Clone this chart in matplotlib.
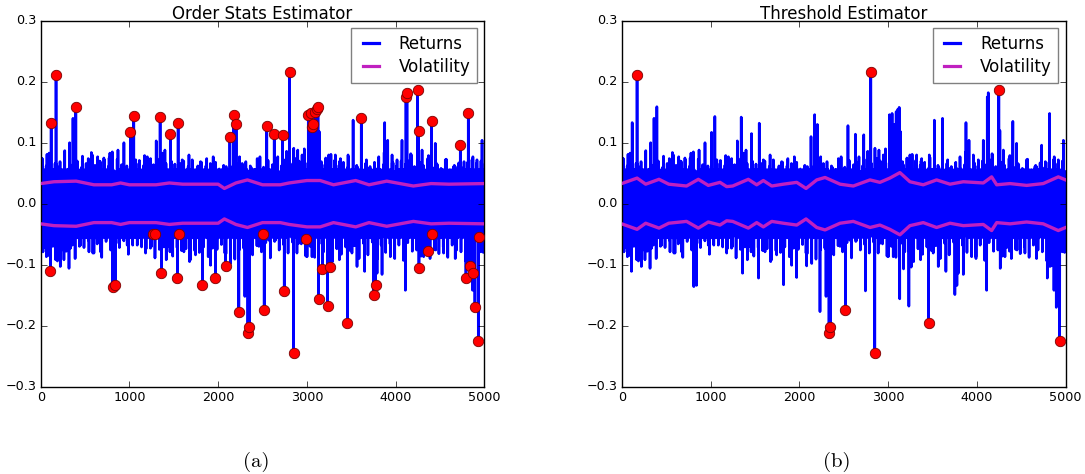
import numpy as np
import matplotlib
matplotlib.use("Agg")
import matplotlib.pyplot as plt

plt.style.use("classic")

# ---------------- data ----------------
n_obs = 5000

# amplitudes of the dense core band (cycled, alternating sign)
core_amp = [0.042, 0.050, 0.036, 0.047, 0.053, 0.039, 0.045, 0.031,
            0.049, 0.044, 0.056, 0.038, 0.046]

# fringe needles above / below the core, one per 50-step bin
fringe_hi = [0.074, 0.062, 0.058, 0.066, 0.061, 0.069, 0.057, 0.064, 0.070, 0.060,
             0.066, 0.072, 0.063, 0.070, 0.075, 0.061, 0.068, 0.073, 0.064, 0.058,
             0.067, 0.060, 0.071, 0.063, 0.069, 0.062, 0.074, 0.060, 0.066, 0.058,
             0.065, 0.059, 0.070, 0.061, 0.064, 0.057, 0.068, 0.062, 0.066, 0.059,
             0.057, 0.063, 0.055, 0.061, 0.066, 0.058, 0.069, 0.062, 0.056, 0.064,
             0.060, 0.071, 0.064, 0.068, 0.062, 0.073, 0.066, 0.061, 0.070, 0.064,
             0.067, 0.073, 0.062, 0.069, 0.075, 0.065, 0.071, 0.063, 0.068, 0.060,
             0.057, 0.063, 0.059, 0.066, 0.061, 0.068, 0.058, 0.064, 0.060, 0.067,
             0.062, 0.070, 0.065, 0.072, 0.061, 0.068, 0.063, 0.074, 0.060, 0.066,
             0.058, 0.064, 0.056, 0.063, 0.067, 0.059, 0.068, 0.062, 0.066, 0.070]
fringe_lo = [-0.072, -0.065, -0.070, -0.062, -0.076, -0.068, -0.073, -0.063, -0.070, -0.066,
             -0.060, -0.071, -0.066, -0.074, -0.062, -0.069, -0.064, -0.072, -0.061, -0.067,
             -0.068, -0.062, -0.071, -0.065, -0.073, -0.066, -0.075, -0.064, -0.070, -0.062,
             -0.072, -0.066, -0.074, -0.068, -0.077, -0.064, -0.071, -0.066, -0.073, -0.063,
             -0.067, -0.061, -0.070, -0.064, -0.076, -0.068, -0.072, -0.065, -0.069, -0.062,
             -0.064, -0.070, -0.062, -0.075, -0.067, -0.071, -0.063, -0.069, -0.066, -0.073,
             -0.070, -0.076, -0.066, -0.072, -0.079, -0.068, -0.074, -0.065, -0.071, -0.067,
             -0.069, -0.074, -0.065, -0.071, -0.063, -0.077, -0.068, -0.072, -0.066, -0.074,
             -0.068, -0.073, -0.064, -0.070, -0.076, -0.066, -0.072, -0.068, -0.075, -0.065,
             -0.071, -0.077, -0.068, -0.074, -0.079, -0.069, -0.075, -0.070, -0.073, -0.067]
# a second, sparser set of taller fringe needles (one per 100-step bin)
fringe2_hi = [0.081, 0.066, 0.087, 0.058, 0.078, 0.084, 0.069, 0.075, 0.088, 0.062,
              0.072, 0.079, 0.064, 0.083, 0.070, 0.066, 0.080, 0.062, 0.074, 0.068,
              0.059, 0.071, 0.066, 0.060, 0.077, 0.082, 0.069, 0.086, 0.074, 0.090,
              0.078, 0.064, 0.081, 0.070, 0.076, 0.060, 0.072, 0.058, 0.084, 0.067,
              0.075, 0.082, 0.068, 0.079, 0.064, 0.073, 0.061, 0.069, 0.077, 0.066]
fringe2_lo = [-0.085, -0.094, -0.078, -0.090, -0.072, -0.081, -0.088, -0.076, -0.069, -0.083,
              -0.079, -0.074, -0.089, -0.071, -0.086, -0.077, -0.092, -0.080, -0.087, -0.075,
              -0.082, -0.091, -0.073, -0.084, -0.079, -0.089, -0.076, -0.093, -0.081, -0.086,
              -0.088, -0.079, -0.095, -0.083, -0.077, -0.090, -0.084, -0.092, -0.080, -0.087,
              -0.093, -0.078, -0.086, -0.090, -0.082, -0.088, -0.076, -0.094, -0.085, -0.080]

# individual spikes (time index, return)
spike_x = [18, 26, 64, 94, 110, 118, 169, 173, 218, 221, 262, 319, 326, 356, 364, 396,
           450, 469, 536, 544, 582, 600, 642, 675, 717, 780, 807, 812, 842, 882, 938,
           975, 1012, 1049, 1088, 1107, 1182, 1201, 1238, 1250, 1263, 1289, 1302, 1346,
           1361, 1400, 1415, 1457, 1462, 1541, 1549, 1560, 1595, 1614, 1678, 1708, 1745,
           1802, 1823, 1914, 1944, 1970, 2076, 2083, 2090, 2132, 2140, 2173, 2203, 2233,
           2241, 2301, 2335, 2350, 2440, 2459, 2500, 2519, 2548, 2571, 2632, 2646, 2672,
           2726, 2745, 2788, 2805, 2850, 2852, 2897, 2908, 2946, 2993, 3002, 3016, 3045,
           3055, 3058, 3072, 3091, 3110, 3125, 3131, 3141, 3174, 3234, 3246, 3260, 3283,
           3321, 3366, 3378, 3456, 3464, 3508, 3521, 3565, 3613, 3651, 3697, 3752, 3775,
           3791, 3810, 3847, 3877, 3911, 3941, 3960, 3990, 4016, 4072, 4110, 4117, 4128,
           4177, 4247, 4259, 4263, 4298, 4316, 4368, 4405, 4413, 4447, 4452, 4541, 4560,
           4654, 4672, 4729, 4793, 4819, 4823, 4838, 4861, 4868, 4875, 4894, 4917, 4932,
           4939, 4961, 4974]
spike_y = [0.074, -0.079, -0.087, 0.083, -0.111, 0.133, -0.092, 0.211, 0.069, -0.103,
           -0.092, -0.106, 0.100, -0.068, 0.140, 0.159, -0.068, 0.070, 0.074, -0.079,
           0.080, -0.081, 0.077, -0.079, 0.072, 0.083, 0.085, -0.136, -0.134, -0.065,
           0.100, -0.068, 0.117, 0.143, -0.068, 0.066, -0.081, 0.077, 0.074, -0.070,
           -0.050, -0.050, 0.103, 0.142, -0.114, 0.088, -0.092, -0.079, 0.115, -0.122,
           0.132, -0.049, 0.072, -0.079, -0.095, 0.072, -0.084, 0.069, -0.133, -0.101,
           0.077, -0.121, -0.081, -0.102, 0.061, 0.110, -0.098, 0.146, 0.130, -0.177,
           0.077, -0.152, -0.212, -0.202, 0.074, -0.070, -0.050, -0.175, 0.128, -0.060,
           0.114, -0.060, 0.077, 0.113, -0.143, -0.081, 0.216, -0.244, 0.091, 0.088,
           -0.065, 0.080, -0.058, -0.087, 0.146, 0.148, 0.126, -0.087, 0.130, 0.151,
           0.155, 0.158, -0.156, 0.118, -0.107, -0.168, 0.080, -0.104, -0.092, 0.080,
           -0.092, 0.074, -0.196, 0.080, -0.081, 0.137, -0.103, 0.140, -0.111, 0.058,
           -0.149, -0.134, -0.114, 0.077, -0.116, 0.133, 0.104, -0.087, 0.080, -0.090,
           0.072, 0.104, -0.142, 0.175, 0.182, 0.080, 0.187, 0.120, -0.106, 0.088,
           -0.087, -0.078, 0.135, -0.049, 0.099, -0.076, -0.081, 0.072, 0.061, -0.090,
           0.096, -0.122, 0.148, -0.103, -0.102, 0.072, -0.142, -0.113, -0.170, 0.072,
           -0.225, -0.055, -0.079, 0.104]

# points flagged as jumps by each estimator
jumps_a = [110, 118, 173, 396, 812, 842, 1012, 1049, 1263, 1289, 1346, 1361, 1462, 1541,
           1549, 1560, 1823, 1970, 2083, 2132, 2173, 2203, 2233, 2335, 2350, 2500, 2519,
           2548, 2632, 2726, 2745, 2805, 2850, 2993, 3016, 3045, 3055, 3072, 3091, 3110,
           3125, 3131, 3174, 3234, 3260, 3456, 3613, 3752, 3775, 4117, 4128, 4247, 4259,
           4263, 4368, 4405, 4413, 4729, 4793, 4819, 4838, 4875, 4894, 4932, 4939]
jumps_b = [173, 2335, 2350, 2519, 2805, 2850, 3456, 4247, 4932]

# volatility estimates (+/-)
vol_a_x = [0, 150, 400, 600, 800, 900, 1000, 1300, 1450, 1600, 2000, 2070, 2200, 2330,
           2500, 2700, 2800, 3000, 3150, 3300, 3550, 3700, 3900, 4200, 4400, 4600, 5000]
vol_a_y = [0.033, 0.036, 0.037, 0.031, 0.031, 0.034, 0.031, 0.031, 0.034, 0.032, 0.032,
           0.025, 0.034, 0.039, 0.031, 0.031, 0.034, 0.038, 0.038, 0.031, 0.038, 0.031,
           0.037, 0.029, 0.033, 0.032, 0.033]
vol_b_x = [0, 173, 270, 420, 530, 730, 863, 975, 1107, 1182, 1250, 1426, 1520, 1595, 1690,
           1820, 1971, 2076, 2196, 2290, 2459, 2608, 2796, 2908, 3020, 3133, 3246, 3396,
           3546, 3697, 3847, 4072, 4166, 4223, 4373, 4560, 4747, 4917, 5000]
vol_b_y = [0.033, 0.042, 0.032, 0.040, 0.032, 0.029, 0.040, 0.030, 0.035, 0.028, 0.029,
           0.040, 0.031, 0.038, 0.029, 0.032, 0.035, 0.025, 0.039, 0.043, 0.032, 0.029,
           0.039, 0.035, 0.042, 0.051, 0.036, 0.031, 0.039, 0.032, 0.036, 0.034, 0.044,
           0.031, 0.033, 0.030, 0.033, 0.044, 0.039]

titles = ["Order Stats Estimator", "Threshold Estimator"]
panel_labels = ["(a)", "(b)"]

# ---------------- build the return series ----------------
t = np.arange(n_obs)
amp = np.array(core_amp)[t % len(core_amp)]
returns = np.where(t % 2 == 0, amp, -amp)
bins = np.arange(len(fringe_hi)) * (n_obs // len(fringe_hi))
returns[bins + 12] = fringe_hi
returns[bins + 37] = fringe_lo
bins2 = np.arange(len(fringe2_hi)) * (n_obs // len(fringe2_hi))
returns[bins2 + 71] = fringe2_hi
returns[bins2 + 88] = fringe2_lo
returns[np.array(spike_x)] = spike_y

# ---------------- figure ----------------
fig = plt.figure(figsize=(10.85, 4.74), dpi=100, facecolor="white")
axes = [fig.add_axes([0.0375, 0.1842, 0.4089, 0.7721]),
        fig.add_axes([0.5730, 0.1842, 0.4092, 0.7721])]

vols = [(vol_a_x, vol_a_y), (vol_b_x, vol_b_y)]
jumps = [jumps_a, jumps_b]
label_x = [0.236, 0.771]

for ax, title, (vx, vy), jmp, lab, lx in zip(axes, titles, vols, jumps, panel_labels, label_x):
    ax.set_facecolor("white")
    ax.plot(t, returns, color="#0000ff", lw=1.9, label="Returns", zorder=2)
    vy = np.array(vy)
    ax.plot(vx, vy, color="#c020c0", lw=2.4, label="Volatility", zorder=3)
    ax.plot(vx, -vy, color="#c020c0", lw=2.4, zorder=3)
    jmp = np.array(jmp)
    ax.plot(t[jmp], returns[jmp], "o", color="#ff0000", ms=7.5, mec="#7a0000",
            mew=0.6, zorder=4)
    ax.set_xlim(0, 5000)
    ax.set_ylim(-0.3, 0.3)
    ax.set_xticks([0, 1000, 2000, 3000, 4000, 5000])
    ax.set_yticks([-0.3, -0.2, -0.1, 0.0, 0.1, 0.2, 0.3])
    ax.set_yticklabels(["\u22120.3", "\u22120.2", "\u22120.1", "0.0", "0.1", "0.2", "0.3"])
    ax.tick_params(labelsize=9.2, direction="in", length=4, pad=3)
    ax.set_title(title, fontsize=12, pad=1.5)
    leg = ax.legend(loc="upper right", fontsize=12, handlelength=1.55,
                    handletextpad=0.9, borderpad=0.38, labelspacing=0.33,
                    borderaxespad=0.46, fancybox=False)
    leg.get_frame().set_edgecolor("#808080")
    leg.get_frame().set_linewidth(1.0)
    for line in leg.get_lines():
        line.set_linewidth(2.3)
    fig.text(lx, 0.025, lab, fontfamily="cmr10", fontsize=15,
             ha="center", va="center")

fig.savefig("out.png", dpi=100, facecolor="white")
